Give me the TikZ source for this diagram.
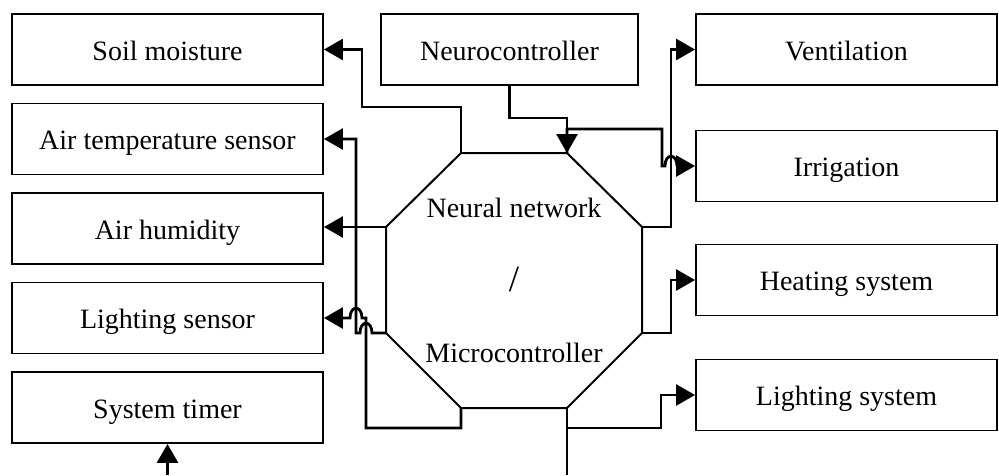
\documentclass[tikz,border=0pt]{standalone}
\usepackage{fontspec}
\setmainfont{Liberation Serif}
\usetikzlibrary{arrows.meta}
\begin{document}
\begin{tikzpicture}[x=1pt,y=-1pt,
  box/.style={draw,line width=1.9pt,minimum height=71pt,inner sep=0pt,
    text height=25pt,text depth=4pt,
    font=\fontsize{28pt}{34pt}\selectfont},
  lbox/.style={box,minimum width=311pt},
  rbox/.style={box,minimum width=301pt},
  lbl/.style={inner sep=0pt,text height=25pt,text depth=4pt,
    font=\fontsize{28pt}{34pt}\selectfont},
  conn/.style={line width=2.8pt},
  arr/.style={conn,-{Triangle[length=19pt,width=21pt]}},
  octa/.style={line width=2pt,line join=miter}]
\useasboundingbox (0,0) rectangle (999,475);
% left boxes
\node[lbox] (soil)  at (167.5,49.5)  {Soil moisture};
\node[lbox] (airt)  at (167.5,139)   {Air temperature sensor};
\node[lbox] (hum)   at (167.5,228.5) {Air humidity};
\node[lbox] (light) at (167.5,318)   {Lighting sensor};
\node[lbox] (timer) at (167.5,407.5) {System timer};
% top box
\node[box,minimum width=257pt] (neuro) at (509.5,49.5) {Neurocontroller};
% right boxes
\node[rbox] (vent) at (846.5,49.5) {Ventilation};
\node[rbox] (irr)  at (846.5,166)  {Irrigation};
\node[rbox] (heat) at (846.5,280)  {Heating system};
\node[rbox] (lsys) at (846.5,395)  {Lighting system};
% octagon
\coordinate (oTL) at (461,153);
\coordinate (oTR) at (567,153);
\coordinate (oRT) at (642,227);
\coordinate (oRB) at (642,333);
\coordinate (oBR) at (567,408);
\coordinate (oBL) at (461,408);
\coordinate (oLB) at (386,333);
\coordinate (oLT) at (386,227);
\draw[octa] (oTL) -- (oTR) -- (oRT) -- (oRB) -- (oBR) -- (oBL) -- (oLB) -- (oLT) -- cycle;
\node[lbl] (nn1) at (514,206.5) {Neural network};
\node[inner sep=0pt,font=\fontsize{37pt}{40pt}\selectfont] (slash) at (514,279) {/};
\node[lbl] (nn2) at (514,351.5) {Microcontroller};
% bottom free ends
\coordinate (bot1) at (167.5,475);
\coordinate (bot2) at (567,475);
% connectors left
\draw[arr] (oTL) |- (362,107) |- (soil.east);
\draw[arr] (oLB) -- (372,333) .. controls (372,320) and (360,320) .. (360,333) -- (356,333) |- (airt.east);
\draw[arr] (oLT) -- (oLT -| hum.east);
\draw[arr] (oBL) |- (366,428) -- (366,318) -- (362,318) .. controls (362,305) and (350,305) .. (350,318) -- (light.east);
\draw[arr] (bot1) -- (timer.south);
% neurocontroller
\draw[arr] (neuro.south) |- (567,118) -- (oTR);
% connectors right
\draw[arr] (oRT) -- (671,227) |- (vent.west);
\draw[arr] (oTR) -- (567,129) -- (662,129) -- (662,166) -- (665,166) .. controls (665,153) and (677,153) .. (677,166) -- (irr.west);
\draw[arr] (oRB) -- (671,333) |- (heat.west);
\draw[arr] (oBR) |- (661,428) |- (lsys.west);
\draw[conn] (oBR) -- (bot2);
\end{tikzpicture}
\end{document}
